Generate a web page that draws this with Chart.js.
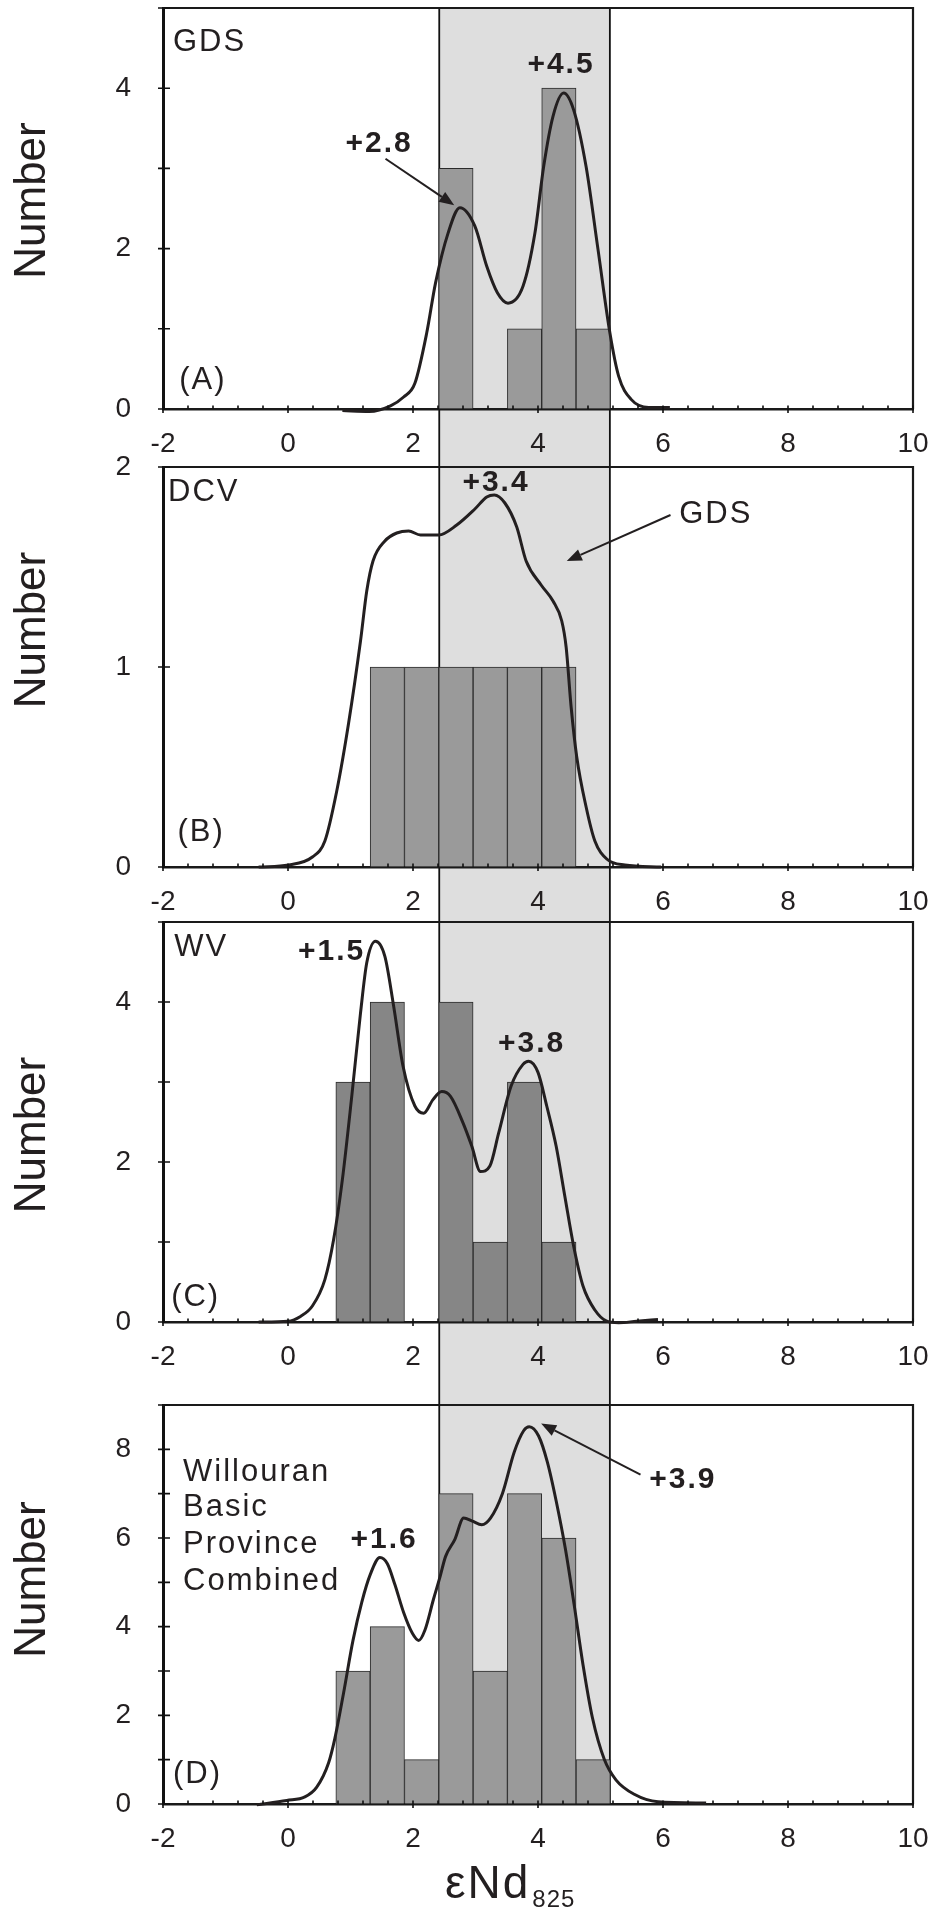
<!DOCTYPE html>
<html>
<head>
<meta charset="utf-8">
<title>eNd histograms</title>
<script src="https://cdn.jsdelivr.net/npm/chart.js@4.4.1/dist/chart.umd.min.js"></script>
<style>
  html,body{margin:0;padding:0;background:#fff;}
  #wrap{position:relative;width:940px;height:1910px;overflow:hidden;}
  #wrap canvas{position:absolute;left:0;}
</style>
</head>
<body>
<div id="wrap">
  <canvas id="chartA" width="940" height="467" style="top:0px"></canvas>
  <canvas id="chartB" width="940" height="482" style="top:440px"></canvas>
  <canvas id="chartC" width="940" height="509" style="top:896px"></canvas>
  <canvas id="chartD" width="940" height="532" style="top:1378px"></canvas>
</div>
<script>
// histogram bins (centres, eNd units) and counts per panel
let binCentres=[1.04,1.589,2.138,2.687,3.236,3.785,4.334,4.883];
let countsA=[0,0,0,3,0,1,4,1];
let countsB=[0,1,1,1,1,1,1,0];
let countsC=[3,4,0,4,1,3,1,0];
let countsD=[3,4,1,7,3,7,6,1];

// probability curves
let curveAx=[0.87,1.3,1.64,1.85,2.03,2.22,2.36,2.56,2.75,2.99,3.18,3.35,3.52,3.76,3.95,4.09,4.24,4.41,4.57,4.77,4.96,5.15,5.29,5.49,5.77,6.11];
let curveAy=[-0.02,-0.03,0.04,0.15,0.32,0.95,1.57,2.19,2.51,2.28,1.78,1.45,1.32,1.53,2.19,3.02,3.65,3.94,3.73,3.02,1.99,0.95,0.41,0.12,0.02,0.02];

let curveBx=[-0.47,0.01,0.39,0.59,0.78,0.97,1.16,1.26,1.36,1.55,1.74,1.93,2.12,2.41,2.70,2.99,3.18,3.30,3.47,3.66,3.81,4.05,4.24,4.38,4.45,4.53,4.62,4.77,4.91,5.10,5.39,5.97];
let curveBy=[0.00,0.01,0.05,0.13,0.38,0.72,1.13,1.38,1.53,1.63,1.67,1.68,1.66,1.66,1.71,1.79,1.85,1.86,1.82,1.70,1.53,1.41,1.33,1.23,1.10,0.80,0.55,0.30,0.13,0.04,0.01,0.00];

let curveCx=[-0.47,0.00,0.20,0.39,0.59,0.73,0.87,1.02,1.16,1.26,1.40,1.55,1.69,1.84,2.03,2.17,2.32,2.46,2.60,2.80,2.94,3.08,3.23,3.37,3.57,3.76,3.85,4.00,4.14,4.29,4.43,4.57,4.72,4.91,5.10,5.29,5.58,5.92];
let curveCy=[0.00,0.01,0.07,0.20,0.53,1.03,1.78,2.82,3.86,4.49,4.76,4.57,3.95,3.20,2.70,2.61,2.78,2.88,2.82,2.49,2.20,1.88,1.95,2.36,2.95,3.22,3.26,3.12,2.70,2.20,1.57,0.95,0.45,0.15,0.01,-0.01,0.01,0.03];

let curveDx=[-0.50,-0.02,0.27,0.46,0.65,0.75,0.89,1.04,1.18,1.32,1.47,1.59,1.71,1.85,1.99,2.09,2.19,2.33,2.43,2.52,2.67,2.81,2.95,3.10,3.24,3.43,3.62,3.77,3.86,4.01,4.15,4.29,4.44,4.58,4.72,4.87,5.06,5.25,5.54,5.92,6.69];
let curveDy=[-0.02,0.08,0.16,0.38,0.93,1.48,2.51,3.69,4.55,5.19,5.56,5.42,4.95,4.32,3.85,3.69,3.92,4.63,5.11,5.58,5.97,6.45,6.38,6.30,6.45,7.00,7.94,8.42,8.51,8.30,7.71,6.84,5.74,4.48,3.14,1.95,1.01,0.54,0.22,0.05,0.02];

// GDS range (shaded band) and axis ranges
let gdsRange=[2.42,5.15];
let xRange=[-2,10];
let yMaxA=5, yMaxB=2, yMaxC=5, yMaxD=9;

const FONT="'Liberation Sans', Arial, Helvetica, sans-serif";
const INK="#231f20";

function curvePoints(xs,ys){
    let pts=[];
    for(let i=0;i<xs.length;i++){ pts.push({x:xs[i],y:ys[i]}); }
    return pts;
}
function barPoints(counts){
    let pts=[];
    for(let i=0;i<binCentres.length;i++){ pts.push({x:binCentres[i],y:counts[i]}); }
    return pts;
}

// shaded GDS band, runs down through the gap to the next panel
const bandPlugin={
    id:"gdsBand",
    beforeDraw(chart,args,opts){
        const {ctx,chartArea:a,scales:{x}}=chart;
        const x0=x.getPixelForValue(gdsRange[0]);
        const x1=x.getPixelForValue(gdsRange[1]);
        const bottom=opts.last ? a.bottom : chart.height;
        ctx.save();
        ctx.fillStyle="#dedede";
        ctx.fillRect(x0,a.top,x1-x0,bottom-a.top);
        ctx.strokeStyle="#111";
        ctx.lineWidth=1.8;
        ctx.beginPath();
        ctx.moveTo(x0,a.top); ctx.lineTo(x0,bottom);
        ctx.moveTo(x1,a.top); ctx.lineTo(x1,bottom);
        ctx.stroke();
        ctx.restore();
    }
};

// frame, tick marks, y title, labels and arrows
const decoPlugin={
    id:"deco",
    afterDraw(chart,args,opts){
        const {ctx,chartArea:a,scales:{x,y}}=chart;
        ctx.save();
        // top & right frame
        ctx.strokeStyle="#1a1a1a";
        ctx.lineWidth=2.2;
        ctx.beginPath();
        ctx.moveTo(a.left,a.top); ctx.lineTo(a.right,a.top); ctx.lineTo(a.right,a.bottom);
        ctx.stroke();
        // ticks
        ctx.strokeStyle="#111";
        ctx.lineWidth=1.6;
        ctx.beginPath();
        x.ticks.forEach(function(t){
            const px=x.getPixelForValue(t.value);
            const major=Math.abs(t.value/2-Math.round(t.value/2))<1e-6;
            ctx.moveTo(px,a.bottom+(major?4:0));
            ctx.lineTo(px,a.bottom-3.5);
        });
        y.ticks.forEach(function(t){
            const py=y.getPixelForValue(t.value);
            ctx.moveTo(a.left-5,py);
            ctx.lineTo(a.left+7,py);
        });
        ctx.stroke();
        // y axis title
        ctx.fillStyle=INK;
        ctx.save();
        ctx.translate(45,(a.top+a.bottom)/2+opts.titleShift);
        ctx.rotate(-Math.PI/2);
        ctx.font="44px "+FONT;
        ctx.textAlign="center";
        ctx.textBaseline="alphabetic";
        ctx.fillText("Number",0,0);
        ctx.restore();
        // text notes
        ctx.textAlign="left";
        ctx.textBaseline="alphabetic";
        ctx.letterSpacing="2px";
        opts.notes.forEach(function(n){
            ctx.font=(n.bold?"bold 30px ":"31px ")+FONT;
            ctx.fillText(n.text,x.getPixelForValue(n.x),y.getPixelForValue(n.y));
        });
        ctx.letterSpacing="0px";
        // arrows
        opts.arrows.forEach(function(ar){
            const x1=x.getPixelForValue(ar.from[0]), y1=y.getPixelForValue(ar.from[1]);
            const x2=x.getPixelForValue(ar.to[0]), y2=y.getPixelForValue(ar.to[1]);
            const ang=Math.atan2(y2-y1,x2-x1);
            const hl=15, hw=6;
            ctx.strokeStyle=INK;
            ctx.lineWidth=2;
            ctx.beginPath();
            ctx.moveTo(x1,y1);
            ctx.lineTo(x2-hl*Math.cos(ang),y2-hl*Math.sin(ang));
            ctx.stroke();
            ctx.fillStyle=INK;
            ctx.beginPath();
            ctx.moveTo(x2,y2);
            ctx.lineTo(x2-hl*Math.cos(ang)+hw*Math.sin(ang),y2-hl*Math.sin(ang)-hw*Math.cos(ang));
            ctx.lineTo(x2-hl*Math.cos(ang)-hw*Math.sin(ang),y2-hl*Math.sin(ang)+hw*Math.cos(ang));
            ctx.closePath();
            ctx.fill();
        });
        // x axis title on the last panel
        if(opts.xTitle){
            const sx=(a.left+a.right)/2-93, by=a.bottom+94;
            ctx.fillStyle=INK;
            ctx.font="46px "+FONT;
            ctx.letterSpacing="2px";
            ctx.fillText("εNd",sx,by);
            const w=ctx.measureText("εNd").width;
            ctx.font="24px "+FONT;
            ctx.letterSpacing="1px";
            ctx.fillText("825",sx+w+2,by+9);
        }
        ctx.restore();
    }
};

function makePanel(id,p){
    const ctx=document.getElementById(id).getContext("2d");
    return new Chart(ctx,{
        type:"bar",
        data:{
            datasets:[{
                type:"line",
                data:curvePoints(p.cx,p.cy),
                borderColor:INK,
                borderWidth:3,
                pointRadius:0,
                fill:false,
                clip:6,
                cubicInterpolationMode:"monotone",
                order:0
            },{
                type:"bar",
                data:barPoints(p.counts),
                backgroundColor:p.barColour,
                borderColor:"#2b2b2b",
                borderWidth:1,
                barThickness:"flex",
                barPercentage:1,
                categoryPercentage:1,
                order:1
            }]
        },
        options:{
            responsive:false,
            animation:false,
            devicePixelRatio:1,
            layout:{autoPadding:false,padding:{top:p.padTop,left:0,right:27,bottom:0}},
            plugins:{
                legend:{display:false},
                tooltip:{enabled:false},
                gdsBand:{last:p.last},
                deco:{notes:p.notes,arrows:p.arrows,titleShift:p.titleShift,xTitle:p.last}
            },
            scales:{
                x:{
                    type:"linear",min:xRange[0],max:xRange[1],offset:false,z:1,
                    border:{display:true,width:2.5,color:"#1a1a1a"},
                    grid:{drawOnChartArea:false,drawTicks:false,offset:false},
                    ticks:{
                        stepSize:0.4,autoSkip:false,maxRotation:0,minRotation:0,padding:18,
                        color:INK,font:{family:FONT,size:28},
                        callback:function(v){
                            return Math.abs(v/2-Math.round(v/2))<1e-6 ? String(Math.round(v)) : "";
                        }
                    },
                    afterFit:function(s){ s.height=p.xAxisH; s.paddingLeft=0; s.paddingRight=0; }
                },
                y:{
                    min:0,max:p.yMax,z:1,
                    border:{display:true,width:3,color:"#111"},
                    grid:{drawOnChartArea:false,drawTicks:false},
                    ticks:{
                        stepSize:1,padding:32,color:INK,font:{family:FONT,size:28},
                        callback:function(v){ return v%p.labelEvery===0 ? String(v) : ""; }
                    },
                    afterFit:function(s){ s.width=163; s.paddingTop=0; s.paddingBottom=0; }
                }
            }
        },
        plugins:[bandPlugin,decoPlugin]
    });
}

makePanel("chartA",{
    counts:countsA,cx:curveAx,cy:curveAy,barColour:"#9a9a9a",yMax:yMaxA,labelEvery:2,
    padTop:8,xAxisH:58,titleShift:-8,last:false,
    notes:[
        {text:"GDS",x:-1.84,y:4.47},
        {text:"(A)",x:-1.74,y:0.25},
        {text:"+2.8",x:0.92,y:3.21,bold:true},
        {text:"+4.5",x:3.83,y:4.19,bold:true}
    ],
    arrows:[{from:[1.56,3.12],to:[2.66,2.54]}]
});
makePanel("chartB",{
    counts:countsB,cx:curveBx,cy:curveBy,barColour:"#9a9a9a",yMax:yMaxB,labelEvery:1,
    padTop:27,xAxisH:55,titleShift:-37,last:false,
    notes:[
        {text:"DCV",x:-1.92,y:1.83},
        {text:"(B)",x:-1.77,y:0.13},
        {text:"+3.4",x:2.79,y:1.88,bold:true},
        {text:"GDS",x:6.26,y:1.72}
    ],
    arrows:[{from:[6.12,1.76],to:[4.46,1.53]}]
});
makePanel("chartC",{
    counts:countsC,cx:curveCx,cy:curveCy,barColour:"#868686",yMax:yMaxC,labelEvery:2,
    padTop:26,xAxisH:83,titleShift:13,last:false,
    notes:[
        {text:"WV",x:-1.82,y:4.57},
        {text:"(C)",x:-1.87,y:0.2},
        {text:"+1.5",x:0.16,y:4.53,bold:true},
        {text:"+3.8",x:3.36,y:3.38,bold:true}
    ],
    arrows:[]
});
makePanel("chartD",{
    counts:countsD,cx:curveDx,cy:curveDy,barColour:"#9a9a9a",yMax:yMaxD,labelEvery:2,
    padTop:27,xAxisH:106,titleShift:-25,last:true,
    notes:[
        {text:"Willouran",x:-1.68,y:7.28},
        {text:"Basic",x:-1.68,y:6.49},
        {text:"Province",x:-1.68,y:5.66},
        {text:"Combined",x:-1.68,y:4.82},
        {text:"(D)",x:-1.84,y:0.48},
        {text:"+1.6",x:1.0,y:5.77,bold:true},
        {text:"+3.9",x:5.78,y:7.12,bold:true}
    ],
    arrows:[{from:[5.64,7.43],to:[4.05,8.58]}]
});
</script>
</body>
</html>
